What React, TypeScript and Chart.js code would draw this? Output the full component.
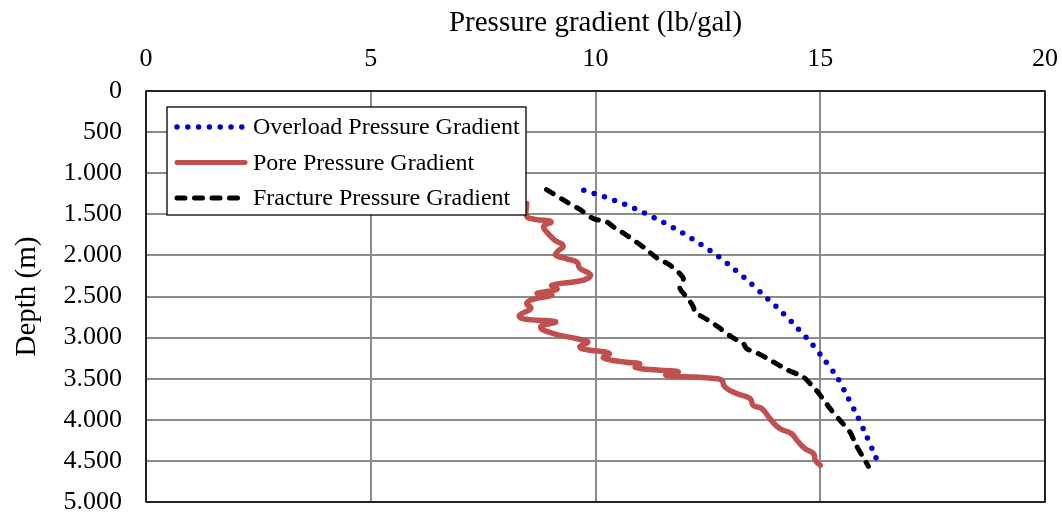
import React, { useEffect, useRef } from "react";
import { Chart, registerables } from "chart.js";

Chart.register(...registerables);

// ---- Data ----
const xTicks = [0, 5, 10, 15, 20];
const depthTicks = [0, 500, 1000, 1500, 2000, 2500, 3000, 3500, 4000, 4500, 5000];

const seriesNames = [
  "Overload Pressure Gradient",
  "Pore Pressure Gradient",
  "Fracture Pressure Gradient",
];

const overloadDepth = [1208, 1290, 1378, 1484, 1601, 1723, 1865, 2011, 2173, 2343, 2518, 2696, 2883, 3073, 3276, 3486, 3714, 3949, 4185, 4423, 4541];
const overloadGradient = [9.74, 10.21, 10.65, 11.09, 11.52, 11.93, 12.34, 12.73, 13.1, 13.46, 13.81, 14.16, 14.49, 14.81, 15.1, 15.38, 15.6, 15.82, 16.02, 16.21, 16.3];

const poreDepth = [1370, 1524, 1561, 1591, 1646, 1719, 1816, 1883, 1950, 1999, 2041, 2084, 2157, 2230, 2278, 2315, 2364, 2412, 2461, 2485, 2534, 2583, 2644, 2729, 2772, 2808, 2869, 2948, 3014, 3051, 3112, 3154, 3166, 3197, 3245, 3300, 3318, 3361, 3397, 3416, 3458, 3483, 3501, 3519, 3601, 3681, 3742, 3824, 3864, 3985, 4107, 4168, 4249, 4350, 4411, 4492, 4553];
const poreGradient = [8.47, 8.47, 8.65, 9.01, 8.85, 8.92, 9.1, 9.28, 9.16, 9.12, 9.36, 9.59, 9.65, 9.88, 9.83, 9.61, 9.03, 9.14, 8.7, 9.03, 8.61, 8.47, 8.56, 8.31, 8.4, 9.11, 8.78, 9.05, 9.59, 9.83, 9.65, 9.88, 10.09, 10.31, 10.18, 10.67, 10.98, 10.89, 11.43, 11.84, 11.57, 12.32, 12.72, 12.81, 12.88, 13.14, 13.44, 13.51, 13.7, 13.88, 14.1, 14.36, 14.48, 14.66, 14.85, 14.89, 15.0];

const fractureDepth = [1199, 1350, 1443, 1552, 1594, 1654, 1755, 1898, 2029, 2120, 2272, 2343, 2404, 2525, 2628, 2688, 2777, 2871, 2993, 3073, 3134, 3194, 3297, 3398, 3479, 3580, 3722, 3864, 4006, 4148, 4310, 4452, 4566];
const fractureGradient = [8.91, 9.36, 9.66, 9.95, 10.25, 10.4, 10.69, 11.06, 11.36, 11.66, 11.95, 11.92, 11.88, 12.06, 12.18, 12.21, 12.47, 12.73, 13.03, 13.29, 13.36, 13.62, 13.96, 14.29, 14.62, 14.81, 15.03, 15.22, 15.44, 15.66, 15.8, 15.95, 16.07];

// ---- Styles ----
const FONT = "'Liberation Serif', 'Times New Roman', serif";
const BLUE = "#0000D0";
const RED = "#C0504D";
const BLACK = "#000000";
const GRID = "#8C8C8C";

const toPoints = (xs: number[], ys: number[]) => xs.map((x, i) => ({ x, y: ys[i] }));

const formatDepth = (v: number) => {
  if (v < 1000) return String(v);
  const th = Math.floor(v / 1000);
  const rest = String(v % 1000).padStart(3, "0");
  return `${th}.${rest}`;
};

const legendStyles = [
  { color: BLUE, dash: [0, 10.8], width: 5.5, cap: "round" as CanvasLineCap },
  { color: RED, dash: [] as number[], width: 5, cap: "round" as CanvasLineCap },
  { color: BLACK, dash: [8, 9.5], width: 5, cap: "round" as CanvasLineCap },
];

const frameAndLegend = {
  id: "frameAndLegend",
  afterDraw(chart: any) {
    const { ctx, chartArea } = chart;
    ctx.save();
    // plot frame
    ctx.strokeStyle = BLACK;
    ctx.lineWidth = 1.5;
    ctx.setLineDash([]);
    ctx.strokeRect(chartArea.left, chartArea.top, chartArea.right - chartArea.left, chartArea.bottom - chartArea.top);

    // legend box
    const lx = chartArea.left + 21;
    const ly = chartArea.top + 16;
    const lw = 359;
    const lh = 108;
    ctx.fillStyle = "#FFFFFF";
    ctx.fillRect(lx, ly, lw, lh);
    ctx.lineWidth = 1.3;
    ctx.strokeStyle = BLACK;
    ctx.strokeRect(lx, ly, lw, lh);

    const rowOffsets = [20, 55.5, 91];
    seriesNames.forEach((name, i) => {
      const st = legendStyles[i];
      const y = ly + rowOffsets[i];
      ctx.beginPath();
      ctx.strokeStyle = st.color;
      ctx.lineWidth = st.width;
      ctx.lineCap = st.cap;
      ctx.setLineDash(st.dash);
      ctx.moveTo(lx + 10, y);
      ctx.lineTo(lx + 78, y);
      ctx.stroke();
      ctx.setLineDash([]);
      ctx.fillStyle = BLACK;
      ctx.font = `24px ${FONT}`;
      ctx.textBaseline = "middle";
      ctx.textAlign = "left";
      ctx.fillText(name, lx + 86, y + 1);
    });
    ctx.restore();
  },
};

export default function App() {
  const canvasRef = useRef<HTMLCanvasElement | null>(null);

  useEffect(() => {
    document.body.style.margin = "0";
    const canvas = canvasRef.current;
    if (!canvas) return;
    const chart = new Chart(canvas, {
      type: "scatter",
      data: {
        datasets: [
          {
            label: seriesNames[0],
            data: toPoints(overloadGradient, overloadDepth),
            showLine: true,
            borderColor: BLUE,
            borderWidth: 5.5,
            borderDash: [0, 10.8],
            borderCapStyle: "round",
            pointRadius: 0,
            tension: 0.3,
          },
          {
            label: seriesNames[1],
            data: toPoints(poreGradient, poreDepth),
            showLine: true,
            borderColor: RED,
            borderWidth: 5.5,
            borderCapStyle: "round",
            borderJoinStyle: "round",
            pointRadius: 0,
            tension: 0.5,
          },
          {
            label: seriesNames[2],
            data: toPoints(fractureGradient, fractureDepth),
            showLine: true,
            borderColor: BLACK,
            borderWidth: 5,
            borderDash: [8, 9.5],
            borderCapStyle: "round",
            borderJoinStyle: "round",
            pointRadius: 0,
            tension: 0.3,
          },
        ],
      },
      options: {
        responsive: false,
        animation: false,
        events: [],
        layout: { padding: { left: 0, top: 0, right: 17, bottom: 10 } },
        plugins: {
          legend: { display: false },
          tooltip: { enabled: false },
        },
        scales: {
          x: {
            type: "linear",
            position: "top",
            min: 0,
            max: 20,
            afterBuildTicks: (scale: any) => {
              scale.ticks = xTicks.map((v) => ({ value: v }));
            },
            ticks: {
              color: BLACK,
              font: { family: FONT, size: 26 },
              padding: 16,
              maxRotation: 0,
            },
            grid: { color: GRID, lineWidth: 2, drawTicks: false },
            border: { display: false },
            title: {
              display: true,
              text: "Pressure gradient (lb/gal)",
              color: BLACK,
              font: { family: FONT, size: 29 },
              padding: { top: 6, bottom: 0 },
            },
            afterFit: (scale: any) => {
              scale.height = 91;
              scale.paddingLeft = 0;
              scale.paddingRight = 0;
            },
          },
          y: {
            type: "linear",
            reverse: true,
            min: 0,
            max: 5000,
            afterBuildTicks: (scale: any) => {
              scale.ticks = depthTicks.map((v) => ({ value: v }));
            },
            ticks: {
              color: BLACK,
              font: { family: FONT, size: 26 },
              padding: 24,
              callback: (v: any) => formatDepth(Number(v)),
            },
            grid: { color: GRID, lineWidth: 2, drawTicks: false },
            border: { display: false },
            title: {
              display: true,
              text: "Depth (m)",
              color: BLACK,
              font: { family: FONT, size: 29 },
              padding: { top: 10, bottom: 0 },
            },
            afterFit: (scale: any) => {
              scale.width = 146;
              scale.paddingTop = 0;
              scale.paddingBottom = 0;
            },
          },
        },
      },
      plugins: [frameAndLegend],
    });
    return () => chart.destroy();
  }, []);

  return (
    <div style={{ position: "fixed", left: 0, top: 0, width: 1062, height: 512, background: "#fff" }}>
      <canvas ref={canvasRef} width={1062} height={512} />
    </div>
  );
}
